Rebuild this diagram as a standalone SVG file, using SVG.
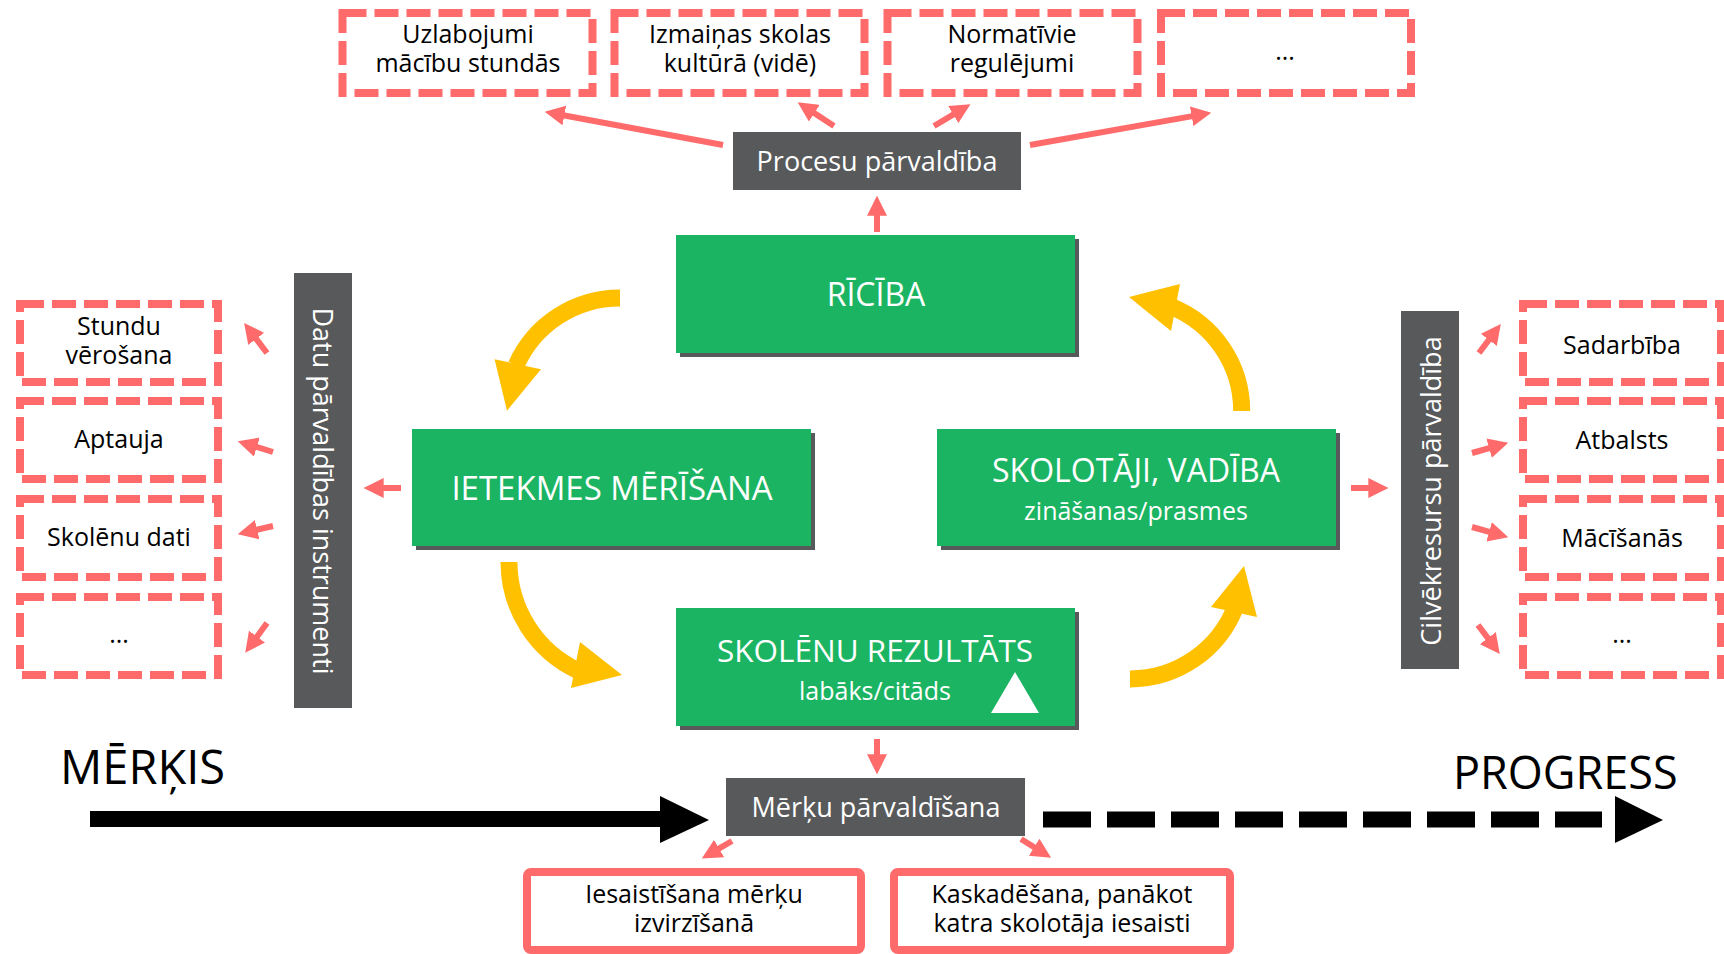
<svg xmlns="http://www.w3.org/2000/svg" width="1724" height="954" viewBox="0 0 1724 954">
<style>
text{font-family:"Open Sans","Noto Sans","Liberation Sans",sans-serif}
.dash{fill:#fff;stroke:#FF6B6B;stroke-width:8;stroke-dasharray:24 8}
.solid{fill:#fff;stroke:#FF6B6B;stroke-width:8}
.t{font-size:25px;fill:#000;text-anchor:middle}
.gbox{fill:#1BB462}
.shadow{fill:#58595B}
.gray{fill:#58595B}
.wt{fill:#fff;text-anchor:middle}
.h{font-size:32px}
.s{font-size:25px}
.g{font-size:27px}
.red{stroke:#FF6B6B;stroke-width:6;fill:none;marker-end:url(#rh)}
.yel{stroke:#FFC000;stroke-width:17;fill:none}
.yh{fill:#FFC000}
.big{font-size:45px;fill:#000}
</style>
<defs>
<marker id="rh" markerUnits="userSpaceOnUse" markerWidth="20" markerHeight="20" viewBox="0 0 18 18" refX="6" refY="9" orient="auto">
<path d="M0,0 L18,9 L0,18 z" fill="#FF6B6B"/>
</marker>
</defs>

<g id="top-1"><rect class="dash" x="342.5" y="13" width="250" height="80"/><text class="t" x="468" y="43">Uzlabojumi<tspan x="468" dy="29">mācību stundās</tspan></text></g>
<g id="top-2"><rect class="dash" x="614.5" y="13" width="250" height="80"/><text class="t" x="740" y="43">Izmaiņas skolas<tspan x="740" dy="29">kultūrā (vidē)</tspan></text></g>
<g id="top-3"><rect class="dash" x="887.5" y="13" width="250" height="80"/><text class="t" x="1012" y="43">Normatīvie<tspan x="1012" dy="29">regulējumi</tspan></text></g>
<g id="top-4"><rect class="dash" x="1161" y="13" width="250" height="80"/><text class="t" x="1285" y="60">...</text></g>

<g id="procesu"><rect class="gray" x="733" y="132" width="288" height="58"/><text class="wt g" x="877" y="171">Procesu pārvaldība</text></g>

<g id="ricība"><rect class="shadow" x="680" y="239" width="399" height="118"/><rect class="gbox" x="676" y="235" width="399" height="118"/><text class="wt h" x="876" y="306">RĪCĪBA</text></g>
<g id="ietekmes"><rect class="shadow" x="416" y="433" width="399" height="117"/><rect class="gbox" x="412" y="429" width="399" height="117"/><text class="wt h" x="612" y="500" style="font-size:33px">IETEKMES MĒRĪŠANA</text></g>
<g id="skolotaji"><rect class="shadow" x="941" y="433" width="399" height="117"/><rect class="gbox" x="937" y="429" width="399" height="117"/><text class="wt h" x="1136" y="482">SKOLOTĀJI, VADĪBA<tspan class="s" x="1136" dy="38">zināšanas/prasmes</tspan></text></g>
<g id="skolenu"><rect class="shadow" x="680" y="612" width="399" height="118"/><rect class="gbox" x="676" y="608" width="399" height="118"/><text class="wt h" x="875" y="662" style="font-size:31.5px">SKOLĒNU REZULTĀTS<tspan class="s" x="875" dy="38">labāks/citāds</tspan></text><polygon points="1015,672 1039,713 991,713" fill="#fff"/></g>

<g id="datu"><rect class="gray" x="294" y="273" width="58" height="435"/><text class="wt g" transform="translate(313,491) rotate(90)">Datu pārvaldības instrumenti</text></g>
<g id="left-1"><rect class="dash" x="20" y="304" width="198" height="78"/><text class="t" x="119" y="335">Stundu<tspan x="119" dy="29">vērošana</tspan></text></g>
<g id="left-2"><rect class="dash" x="20" y="401" width="198" height="78"/><text class="t" x="119" y="448">Aptauja</text></g>
<g id="left-3"><rect class="dash" x="20" y="499" width="198" height="78"/><text class="t" x="119" y="546">Skolēnu dati</text></g>
<g id="left-4"><rect class="dash" x="20" y="597" width="198" height="78"/><text class="t" x="119" y="643">...</text></g>

<g id="cilvek"><rect class="gray" x="1401" y="311" width="58" height="358"/><text class="wt g" transform="translate(1441,491) rotate(-90)">Cilvēkresursu pārvaldība</text></g>
<g id="right-1"><rect class="dash" x="1523" y="304" width="198" height="78"/><text class="t" x="1622" y="354">Sadarbība</text></g>
<g id="right-2"><rect class="dash" x="1523" y="401" width="198" height="78"/><text class="t" x="1622" y="449">Atbalsts</text></g>
<g id="right-3"><rect class="dash" x="1523" y="499" width="198" height="78"/><text class="t" x="1622" y="547">Mācīšanās</text></g>
<g id="right-4"><rect class="dash" x="1523" y="597" width="198" height="78"/><text class="t" x="1622" y="643">...</text></g>

<g id="merku"><rect class="gray" x="726" y="778" width="299" height="58"/><text class="wt g" x="876" y="817">Mērķu pārvaldīšana</text></g>
<g id="bottom-1"><rect class="solid" x="527" y="872" width="334" height="78" rx="4"/><text class="t" x="694" y="903">Iesaistīšana mērķu<tspan x="694" dy="29">izvirzīšanā</tspan></text></g>
<g id="bottom-2"><rect class="solid" x="894" y="872" width="336" height="78" rx="4"/><text class="t" x="1062" y="903">Kaskadēšana, panākot<tspan x="1062" dy="29">katra skolotāja iesaisti</tspan></text></g>

<g id="merkis-label"><text class="big" x="60" y="784" style="font-size:47px">MĒRĶIS</text></g>
<g id="progress-label"><text class="big" x="1453" y="789">PROGRESS</text></g>

<g id="connectors">
<path class="red" d="M723,145 L557.8,114.2"/>
<path class="red" d="M834,126 L808.8,109.5"/>
<path class="red" d="M934,126 L959,111.1"/>
<path class="red" d="M1030,145 L1198.2,115.1"/>
<path class="red" d="M877,232 L877,209"/>
<path class="red" d="M267,353 L252.2,333.6"/>
<path class="red" d="M273,452 L250.5,445.1"/>
<path class="red" d="M273,526 L250.7,531.2"/>
<path class="red" d="M267,623 L253.1,642"/>
<path class="red" d="M401,488 L377,488"/>
<path class="red" d="M1479,353 L1492.8,334.6"/>
<path class="red" d="M1472,453 L1495.5,446.3"/>
<path class="red" d="M1472,527 L1495.5,533.7"/>
<path class="red" d="M1478,625 L1491.8,643.4"/>
<path class="red" d="M1351,488 L1375,488"/>
<path class="red" d="M877,739 L877,761"/>
<path class="red" d="M732,841 L713.3,851.9"/>
<path class="red" d="M1021,839 L1039.8,850.7"/>

<path class="yel" d="M620,298 A113.5,113.5 0 0 0 516.3,365.1"/>
<polygon class="yh" points="494.6,359.3 541,369.3 507,410.7"/>
<path class="yel" d="M509,562 A120,120 0 0 0 578.3,670.8"/>
<polygon class="yh" points="580,642 571,688 622,675"/>
<path class="yel" d="M1130,679 A113.2,113.2 0 0 0 1235.7,606.4"/>
<polygon class="yh" points="1211,607 1257,617 1244,566"/>
<path class="yel" d="M1241.7,411 A112.6,112.6 0 0 0 1171.3,306.6"/>
<polygon class="yh" points="1180,284 1171,331 1129,297"/>

<line x1="90" y1="819" x2="662" y2="819" stroke="#000" stroke-width="16"/>
<polygon points="660,796 709,820 660,843" fill="#000"/>
<line x1="1043" y1="819.5" x2="1602" y2="819.5" stroke="#000" stroke-width="16" stroke-dasharray="48 16"/>
<polygon points="1615,796 1663,820 1615,843" fill="#000"/>
</g>
</svg>
